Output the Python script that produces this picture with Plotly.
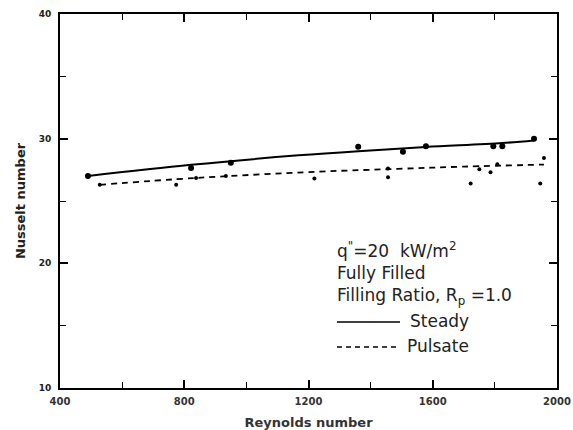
import plotly.graph_objects as go

# Data
steady_re = [490, 822, 950, 1360, 1504, 1578, 1795, 1824, 1926]
steady_nu = [27.0, 27.65, 28.06, 29.35, 28.95, 29.4, 29.4, 29.4, 30.0]
steady_fit_re = [490, 822, 1168, 1360, 1578, 1824, 1926]
steady_fit_nu = [27.0, 27.9, 28.66, 29.0, 29.33, 29.65, 29.86]

pulsate_re = [528, 774, 838, 934, 1219, 1456, 1456, 1722, 1750, 1786, 1808, 1946, 1958]
pulsate_nu = [26.3, 26.3, 26.85, 27.0, 26.8, 26.9, 27.6, 26.4, 27.55, 27.3, 27.95, 26.4, 28.45]
pulsate_fit_re = [528, 838, 1232, 1488, 1702, 1958]
pulsate_fit_nu = [26.3, 26.85, 27.35, 27.58, 27.76, 27.92]

x_ticks = [400, 800, 1200, 1600, 2000]
x_ticklabels = ["400", "800", "1200", "1600", "2000"]
y_ticks = [10, 20, 30, 40]
y_ticklabels = ["10", "20", "30", "40"]

fig = go.Figure()
fig.add_trace(go.Scatter(x=steady_fit_re, y=steady_fit_nu, mode="lines",
                         line=dict(color="black", width=2, shape="spline"),
                         name="Steady", showlegend=False))
fig.add_trace(go.Scatter(x=pulsate_fit_re, y=pulsate_fit_nu, mode="lines",
                         line=dict(color="black", width=1.8, dash="6px,5px", shape="spline"),
                         name="Pulsate", showlegend=False))
fig.add_trace(go.Scatter(x=steady_re, y=steady_nu, mode="markers",
                         marker=dict(color="black", size=6, symbol="circle"),
                         showlegend=False))
fig.add_trace(go.Scatter(x=pulsate_re, y=pulsate_nu, mode="markers",
                         marker=dict(color="black", size=4, symbol="circle"),
                         showlegend=False))

fig.update_xaxes(range=[400, 2000], tickvals=x_ticks, ticktext=x_ticklabels,
                 ticks="inside", ticklen=8, tickwidth=1.5, tickcolor="black",
                 minor=dict(dtick=200, tick0=400, ticks="inside", ticklen=6, tickcolor="black", tickwidth=1.2),
                 showline=True, linecolor="black", linewidth=2, mirror="ticks",
                 showgrid=False, zeroline=False, ticklabelstandoff=3, automargin=False,
                 ticklabeloverflow="allow",
                 tickfont=dict(family="DejaVu Sans", size=10, color="#333", weight="bold"),
                 title=dict(text="<b>Reynolds number</b>",
                            font=dict(family="DejaVu Sans", size=13, color="#333"), standoff=13))
fig.update_yaxes(range=[10, 40], tickvals=y_ticks, ticktext=y_ticklabels,
                 ticks="inside", ticklen=8, tickwidth=1.5, tickcolor="black",
                 minor=dict(dtick=5, tick0=10, ticks="inside", ticklen=6, tickcolor="black", tickwidth=1.2),
                 showline=True, linecolor="black", linewidth=2, mirror="ticks",
                 showgrid=False, zeroline=False, ticklabelstandoff=5, automargin=False,
                 ticklabeloverflow="allow",
                 tickfont=dict(family="DejaVu Sans", size=9, color="#222", weight="bold"),
                 title=dict(text="<b>Nusselt number</b>",
                            font=dict(family="DejaVu Sans", size=13, color="#222"), standoff=10))

W, H = 573, 430
L, R, T, B = 60, 16, 14, 42
pw, ph = W - L - R, H - T - B

def px(x):
    return (x - L) / pw

def py(y):
    return (H - B - y) / ph

txtfont = dict(family="DejaVu Sans", size=17, color="#222")
annots = [
    ("q<sup>\"</sup>=20  kW/m<sup>2</sup>", 335, 250),
    ("Fully Filled", 335, 273),
    ("Filling Ratio, R<sub>p</sub> =1.0", 335, 296),
    ("Steady", 408, 321),
    ("Pulsate", 405, 346),
]
for t, x, y in annots:
    fig.add_annotation(text=t, x=px(x), y=py(y), xref="paper", yref="paper",
                       xanchor="left", yanchor="middle", showarrow=False, font=txtfont)

fig.add_shape(type="line", xref="paper", yref="paper", x0=px(337), x1=px(400), y0=py(322), y1=py(322),
              line=dict(color="black", width=1.5))
fig.add_shape(type="line", xref="paper", yref="paper", x0=px(337), x1=px(398), y0=py(347), y1=py(347),
              line=dict(color="black", width=1.5, dash="5px,4px"))

fig.update_layout(width=W, height=H, autosize=False, margin=dict(l=L, r=R, t=T, b=B),
                  paper_bgcolor="white", plot_bgcolor="white", showlegend=False)

fig.write_html("out.html",
               config={"responsive": False, "displayModeBar": False},
               post_script="document.body.style.margin='0';document.body.style.overflow='hidden';")
